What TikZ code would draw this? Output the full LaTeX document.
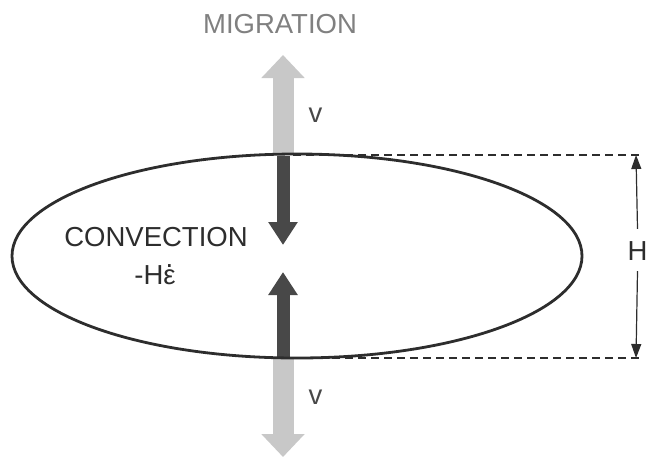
\documentclass[tikz,border=0pt]{standalone}
\usepackage{fontspec}
\setmainfont{Liberation Sans}
\usetikzlibrary{arrows.meta}
\definecolor{lightarr}{RGB}{200,200,200}
\definecolor{darkarr}{RGB}{72,72,72}
\definecolor{rimcol}{RGB}{45,45,45}
\newcommand{\epsdot}{\setbox0\hbox{ε}\hbox to \wd0{\hss\raisebox{0.6em}{.}\hss}\kern-\wd0\box0}
\tikzset{
  lbl/.style={font=\fontsize{27.5}{32}\selectfont, inner sep=0pt},
  migarrow/.style={lightarr, line width=21pt, -{Triangle[width=42pt,length=23pt]}},
  convarrow/.style={darkarr, line width=13pt, -{Triangle[width=28pt,length=23pt]}},
  level/.style={rimcol, line width=1.6pt, dash pattern=on 8pt off 5pt},
  dimarrow/.style={rimcol, line width=1.2pt, -{Triangle[width=10pt,length=14pt]}}
}
\begin{document}
\begin{tikzpicture}[x=1pt, y=-1pt]
    \useasboundingbox (0,0) rectangle (647,459);
    % ellipse rim and its top and bottom
    \coordinate (top) at (283,155);
    \coordinate (bot) at (283,358);
    \coordinate (migup) at (283,55);
    \coordinate (migdown) at (283,457);
    \coordinate (convdown) at (283,245);
    \coordinate (convup) at (283,272);
    % migration arrows
    \draw[migarrow] (top) -- (migup);
    \draw[migarrow] (bot) -- (migdown);
    % convection arrows
    \draw[convarrow] ([yshift=-1pt]top) -- (convdown);
    \draw[convarrow] ([yshift=1pt]bot) -- (convup);
    \draw[rimcol, line width=2.8pt] (297,256) ellipse [x radius=285, y radius=102];
    % levels and thickness
    \coordinate (toprt) at (643,155);
    \coordinate (botrt) at (643,358);
    \draw[level] (293,155) -- (toprt);
    \draw[level] (293,358) -- (botrt);
    \node[lbl, text=rimcol] (hlab) at (637.5,251.5) {H};
    \draw[dimarrow] ([yshift=13pt]hlab.north) -- (636,155);
    \draw[dimarrow] ([yshift=-10pt]hlab.south) -- (636,358);
    % labels
    \node[lbl, text=gray] (mig) at (280,24) {MIGRATION};
    \node[lbl, text=darkarr] (vup) at (315.5,115) {v};
    \node[lbl, text=darkarr] (vdown) at (315.5,397) {v};
    \node[lbl, text=rimcol, anchor=base] (conv) at (156,246) {CONVECTION};
    \node[lbl, text=rimcol, anchor=base] (rate) at (155,284) {-H\epsdot};
\end{tikzpicture}
\end{document}
